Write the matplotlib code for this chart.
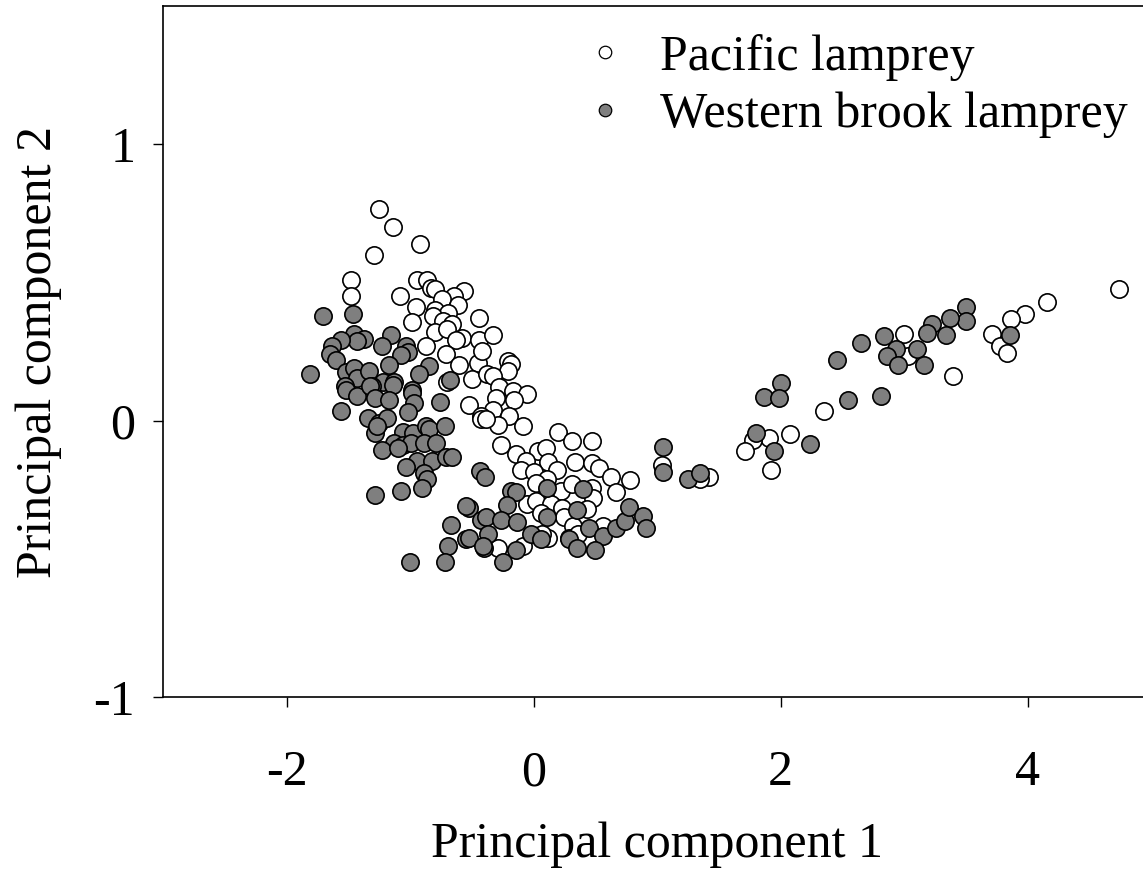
import matplotlib
matplotlib.use("Agg")
import matplotlib.pyplot as plt
from matplotlib.lines import Line2D

# Principal component scores, Pacific lamprey
pacific_pc1 = [
    -1.25, -1.14, -0.92, -1.29, -1.48, -1.48, -1.08, -0.94, -0.86, -0.83,
    -0.80, -0.56, -0.64, -0.74, -0.615, -0.95, -0.80, -0.69, -0.81, -0.98,
    -0.73, -0.66, -0.44, -0.80, -0.70, -0.575, -0.445, -0.63, -0.87, -0.71,
    -0.60, -0.45, -0.50, -0.38, -0.325, -0.42, -0.21, -0.18, -0.21, -0.325,
    -0.28, -0.17, -0.055, -0.155, -0.30, -0.52, -0.325, -0.195, -0.425, -0.29,
    -0.087, 0.20, 0.31, 0.47, -0.26, -0.14, 0.035, 0.10, -0.06, 0.12,
    0.34, 0.47, 0.53, -0.10, 0.008, 0.19, 0.63, 0.78, 0.11, 0.02,
    0.22, 0.31, 0.47, 0.67, 0.48, -0.055, 0.02, 0.14, 0.23, 0.06,
    0.25, 0.43, 0.12, 0.07, 0.32, 0.56, -0.29, -0.087, 1.04, 0.29,
    2.35, 2.08, 1.905, 1.78, 1.715, 1.92, 1.42, 1.35, 4.74, 4.16,
    3.98, 3.87, 3.71, 3.775, 3.83, 3.40, 3.00, 3.03, -0.425, -0.385,
    -0.70, 0.36,
]
pacific_pc2 = [
    0.765, 0.70, 0.64, 0.60, 0.51, 0.45, 0.45, 0.51, 0.51, 0.48,
    0.475, 0.47, 0.45, 0.44, 0.42, 0.41, 0.40, 0.39, 0.38, 0.356,
    0.36, 0.35, 0.37, 0.32, 0.33, 0.30, 0.29, 0.29, 0.27, 0.24,
    0.20, 0.21, 0.15, 0.17, 0.31, 0.25, 0.215, 0.205, 0.18, 0.16,
    0.12, 0.106, 0.098, 0.076, 0.08, 0.058, 0.037, 0.018, 0.016, -0.015,
    -0.018, -0.04, -0.075, -0.075, -0.09, -0.12, -0.11, -0.10, -0.145, -0.15,
    -0.15, -0.155, -0.17, -0.18, -0.187, -0.178, -0.204, -0.216, -0.21, -0.226,
    -0.256, -0.23, -0.244, -0.26, -0.28, -0.30, -0.29, -0.30, -0.317, -0.335,
    -0.35, -0.32, -0.425, -0.41, -0.38, -0.38, -0.46, -0.455, -0.16, -0.425,
    0.034, -0.048, -0.063, -0.069, -0.11, -0.18, -0.204, -0.21, 0.475, 0.43,
    0.384, 0.366, 0.314, 0.27, 0.245, 0.16, 0.314, 0.233, 0.006, 0.004,
    0.14, -0.41,
]

# Principal component scores, Western brook lamprey
western_pc1 = [
    -1.705, -1.46, -1.455, -1.37, -1.43, -1.56, -1.63, -1.645, -1.60, -1.157,
    -1.23, -1.035, -1.02, -1.07, -1.17, -0.85, -0.93, -1.81, -1.52, -1.455,
    -1.43, -1.33, -1.22, -1.13, -0.68, -1.53, -1.31, -0.98, -1.52, -1.43,
    -1.32, -1.14, -1.56, -1.285, -1.17, -0.986, -0.967, -1.02, -0.76, -1.34,
    -1.25, -1.185, -1.285, -1.27, -1.06, -0.976, -0.87, -0.846, -0.72, -1.13,
    -1.06, -0.995, -0.886, -0.786, -1.23, -1.10, -0.94, -0.82, -0.71, -0.656,
    -1.035, -0.886, -0.86, -0.90, -1.28, -1.07, -0.433, -0.39, -0.526, -0.547,
    -0.425, -0.385, -0.67, -0.547, -0.69, -0.40, -1.00, -0.715, -0.18, -0.14,
    -0.217, 0.11, 0.40, -0.26, -0.13, 0.11, 0.35, -0.37, -0.52, -0.02,
    0.06, -0.41, -0.14, -0.244, 0.29, 0.35, 0.45, 0.56, 0.50, 0.67,
    0.74, 0.775, 0.89, 0.91, 1.05, 1.05, 2.0, 1.865, 1.99, 1.80,
    1.95, 2.24, 1.255, 1.35, 3.50, 3.50, 3.37, 3.23, 3.19, 3.34,
    3.86, 2.835, 2.655, 2.455, 2.935, 3.105, 2.86, 2.955, 3.16, 2.55,
    2.81,
]
western_pc2 = [
    0.38, 0.384, 0.315, 0.296, 0.287, 0.29, 0.27, 0.24, 0.22, 0.308,
    0.27, 0.27, 0.247, 0.237, 0.20, 0.197, 0.17, 0.17, 0.175, 0.19,
    0.155, 0.18, 0.14, 0.14, 0.146, 0.124, 0.124, 0.11, 0.11, 0.088,
    0.124, 0.13, 0.034, 0.082, 0.076, 0.10, 0.064, 0.03, 0.066, 0.01,
    -0.008, 0.01, -0.045, -0.02, -0.04, -0.045, -0.02, -0.03, -0.02, -0.08,
    -0.087, -0.08, -0.08, -0.08, -0.105, -0.10, -0.147, -0.147, -0.13, -0.13,
    -0.168, -0.19, -0.21, -0.244, -0.27, -0.254, -0.184, -0.204, -0.316, -0.31,
    -0.36, -0.347, -0.377, -0.43, -0.453, -0.46, -0.51, -0.51, -0.256, -0.26,
    -0.304, -0.244, -0.248, -0.36, -0.368, -0.347, -0.322, -0.41, -0.425, -0.41,
    -0.43, -0.455, -0.467, -0.51, -0.43, -0.46, -0.39, -0.417, -0.467, -0.387,
    -0.365, -0.313, -0.344, -0.39, -0.097, -0.187, 0.136, 0.086, 0.082, -0.045,
    -0.11, -0.083, -0.21, -0.19, 0.41, 0.36, 0.37, 0.35, 0.317, 0.31,
    0.31, 0.306, 0.28, 0.22, 0.26, 0.26, 0.233, 0.20, 0.20, 0.074,
    0.09,
]

series_labels = ["Pacific lamprey", "Western brook lamprey"]
xticks = [-2, 0, 2, 4]
yticks = [-1, 0, 1]

plt.rcParams["font.family"] = ["Liberation Serif", "DejaVu Serif"]
plt.rcParams["font.size"] = 36

W, H = 1143, 871
fig = plt.figure(figsize=(W / 100, H / 100), dpi=100)
# axes box in pixels: left spine, bottom and top spines; right edge runs just past the figure
left, right, top, bottom = 163, 1151, 6, 697
ax = fig.add_axes([left / W, (H - bottom) / H, (right - left) / W, (bottom - top) / H])

grey = "#7f7f7f"
ax.scatter(pacific_pc1, pacific_pc2, s=155, facecolor="white", edgecolor="black",
           linewidths=1.2, zorder=3)
ax.scatter(western_pc1, western_pc2, s=155, facecolor=grey, edgecolor="black",
           linewidths=1.2, zorder=4)

ax.set_xlim(-3, 5)
ax.set_ylim(-1, 1.5)
ax.set_xticks(xticks)
ax.set_yticks(yticks)
ax.set_xticklabels([str(v) for v in xticks])
ax.set_yticklabels([str(v) for v in yticks])
ax.tick_params(axis="both", direction="out", length=7, width=1.0, labelsize=36)
ax.tick_params(axis="x", pad=31)
ax.tick_params(axis="y", pad=13)
for side in ["left", "bottom", "top"]:
    ax.spines[side].set_linewidth(1.2)
ax.spines["right"].set_visible(False)

ax.set_xlabel("Principal component 1", fontsize=36, labelpad=18)
ax.set_ylabel("Principal component 2", fontsize=36, labelpad=23)

handles = [
    Line2D([], [], linestyle="none", marker="o", markersize=9,
           markerfacecolor="white", markeredgecolor="black", markeredgewidth=0.9),
    Line2D([], [], linestyle="none", marker="o", markersize=9,
           markerfacecolor=grey, markeredgecolor="black", markeredgewidth=0.9),
]
fig.legend(handles, series_labels, loc="upper left",
           bbox_to_anchor=(580 / W, 1 - 34 / H), frameon=False, fontsize=36,
           handlelength=1.0, handletextpad=0.6, labelspacing=0.22,
           borderpad=0.0, borderaxespad=0.0)

fig.savefig("out.png", dpi=100)
